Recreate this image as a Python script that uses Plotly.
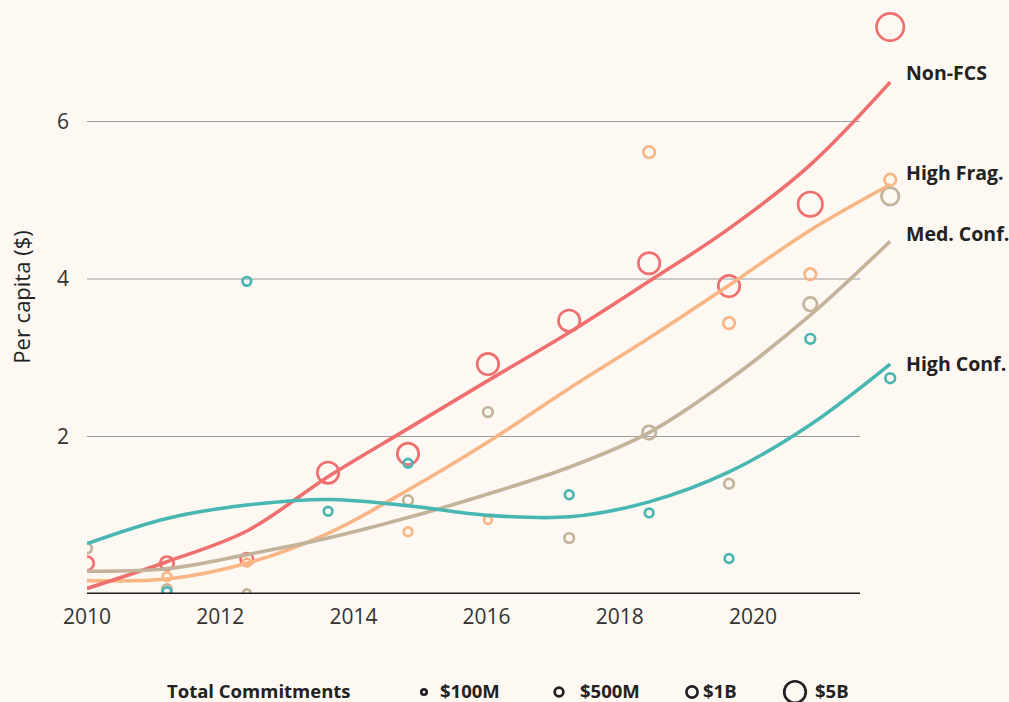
import plotly.graph_objects as go

# ---------------- data ----------------
years = [2010.0, 2011.2, 2012.4, 2013.62, 2014.82, 2016.02, 2017.24, 2018.44, 2019.64, 2020.86, 2022.06]

series_names = ["Non-FCS", "High Frag.", "Med. Conf.", "High Conf."]

# observed per-capita values ($); None = no visible point
nonfcs_vals = [0.39, 0.39, 0.44, 1.54, 1.78, 2.92, 3.47, 4.20, 3.91, 4.95, 7.20]
highfrag_vals = [None, 0.22, 0.40, None, 0.79, 0.94, None, 5.61, 3.44, 4.06, 5.26]
medconf_vals = [0.58, 0.06, 0.01, None, 1.19, 2.31, 0.71, 2.05, 1.40, 3.68, 5.05]
highconf_vals = [None, 0.03, 3.97, 1.05, 1.66, None, 1.26, 1.03, 0.45, 3.24, 2.74]

# total commitments ($M), drive circle size
nonfcs_commit = [1660, 1660, 1370, 4950, 4950, 4950, 4950, 4950, 4950, 6640, 8570]
highfrag_commit = [None, 494, 343, None, 494, 343, None, 1110, 1110, 1110, 1110]
medconf_commit = [672, 672, 343, None, 672, 672, 672, 1660, 672, 1660, 3090]
highconf_commit = [None, 494, 494, 494, 494, None, 494, 494, 494, 672, 672]

# smoothed trend values
nonfcs_fit = [0.07, 0.41, 0.80, 1.49, 2.10, 2.71, 3.32, 3.97, 4.64, 5.45, 6.50]
highfrag_fit = [0.17, 0.19, 0.39, 0.77, 1.32, 1.93, 2.61, 3.25, 3.92, 4.62, 5.20]
medconf_fit = [0.29, 0.32, 0.50, 0.71, 0.97, 1.27, 1.61, 2.05, 2.72, 3.54, 4.48]
highconf_fit = [0.64, 0.96, 1.13, 1.20, 1.12, 1.00, 0.98, 1.17, 1.55, 2.15, 2.92]

label_y = [6.62, 5.35, 4.58, 2.93]

x_ticks = [2010, 2012, 2014, 2016, 2018, 2020]
x_tick_text = ["2010", "2012", "2014", "2016", "2018", "2020"]
y_ticks = [2, 4, 6]
y_tick_text = ["2", "4", "6"]

legend_values = [100, 500, 1000, 5000]
legend_labels = ["$100M", "$500M", "$1B", "$5B"]

# ---------------- style ----------------
colors = ["#EF6F6F", "#F9B584", "#C3B39A", "#48B6B3"]
BG = "#FDF8F2"
TXT = "#222222"
FONT = "'Open Sans', Lato, sans-serif"
STROKE = 2.7


def diam(v):
    return 5.5 + 0.265 * v ** 0.5


obs = [nonfcs_vals, highfrag_vals, medconf_vals, highconf_vals]
com = [nonfcs_commit, highfrag_commit, medconf_commit, highconf_commit]
fits = [nonfcs_fit, highfrag_fit, medconf_fit, highconf_fit]

fig = go.Figure()

# points
for name, vals, cm, col in zip(series_names, obs, com, colors):
    xs, ys, ss = [], [], []
    for x, v, c in zip(years, vals, cm):
        if v is None:
            continue
        xs.append(x)
        ys.append(v)
        ss.append(diam(c) - STROKE)
    fig.add_trace(go.Scatter(
        x=xs, y=ys, mode="markers", name=name, showlegend=False,
        marker=dict(symbol="circle-open", size=ss, color=col, opacity=1,
                    line=dict(width=STROKE, color=col)),
        hoverinfo="skip",
    ))

# fitted lines
for idx in [1, 0, 2, 3]:
    fig.add_trace(go.Scatter(
        x=years, y=fits[idx], mode="lines", showlegend=False,
        line=dict(color=colors[idx], width=3.6, shape="spline", smoothing=1.0),
        hoverinfo="skip",
    ))

# plot geometry
L, R, T, B = 87, 90, 0, 108
W, H = 1009, 702
px_per_year = 66.6
px_per_unit = 78.75
plot_w = W - L - R
plot_h = H - T - B
x_range = [2010, 2010 + plot_w / px_per_year]
y_range = [0, plot_h / px_per_unit]

grid_end = (860 - L) / plot_w

shapes = []
for yt in y_ticks:
    shapes.append(dict(type="line", xref="paper", yref="y", x0=0, x1=grid_end,
                       y0=yt, y1=yt, line=dict(color="#9C9C9C", width=1), layer="below"))
shapes.append(dict(type="line", xref="paper", yref="y", x0=0, x1=grid_end,
                   y0=0, y1=0, line=dict(color="#1E1E1E", width=3), layer="above"))

annotations = []
for name, ly in zip(series_names, label_y):
    annotations.append(dict(
        x=(904 - L) / plot_w, y=ly, xref="paper", yref="y", text=name,
        showarrow=False, xanchor="left", yanchor="middle",
        font=dict(family=FONT, size=19.5, color=TXT, weight="bold"),
    ))

# bottom size legend
leg_y = -(690 - plot_h) / plot_h
annotations.append(dict(
    x=(258.5 - L) / plot_w, y=leg_y, xref="paper", yref="paper",
    text="Total Commitments", showarrow=False, xanchor="center", yanchor="middle",
    font=dict(family=FONT, size=18.5, color=TXT, weight="bold"),
))
circle_px = [424, 559, 692, 795]
text_px = [438, 578, 701, 813]
for v, lab, cpx, tpx in zip(legend_values, legend_labels, circle_px, text_px):
    r = (diam(v) - STROKE) / 2
    shapes.append(dict(
        type="circle", xref="paper", yref="paper",
        xsizemode="pixel", ysizemode="pixel",
        xanchor=(cpx - L) / plot_w, yanchor=-(692 - plot_h) / plot_h,
        x0=-r, x1=r, y0=-r, y1=r,
        line=dict(color=TXT, width=STROKE),
    ))
    annotations.append(dict(
        x=(tpx - L) / plot_w, y=leg_y, xref="paper", yref="paper",
        text=lab, showarrow=False, xanchor="left", yanchor="middle",
        font=dict(family=FONT, size=18.5, color=TXT, weight="bold"),
    ))

fig.update_layout(
    width=W, height=H,
    margin=dict(l=L, r=R, t=T, b=B),
    paper_bgcolor=BG, plot_bgcolor=BG,
    font=dict(family=FONT, color="#333333"),
    shapes=shapes, annotations=annotations,
    showlegend=False,
    xaxis=dict(range=x_range, tickvals=x_ticks, ticktext=x_tick_text,
               showgrid=False, zeroline=False, showline=False, ticks="",
               tickfont=dict(family=FONT, size=21, color="#333333"),
               ticklabelstandoff=8, fixedrange=True),
    yaxis=dict(range=y_range, tickvals=y_ticks, ticktext=y_tick_text,
               showgrid=False, zeroline=False, showline=False, ticks="",
               tickfont=dict(family=FONT, size=21, color="#333333"),
               ticklabelstandoff=17,
               title=dict(text="Per capita ($)", standoff=20,
                          font=dict(family=FONT, size=22, color="#222222")),
               fixedrange=True),
)

fig.write_html("out.html", config={"displayModeBar": False},
               post_script="document.body.style.margin='0';document.body.style.overflow='hidden';")
